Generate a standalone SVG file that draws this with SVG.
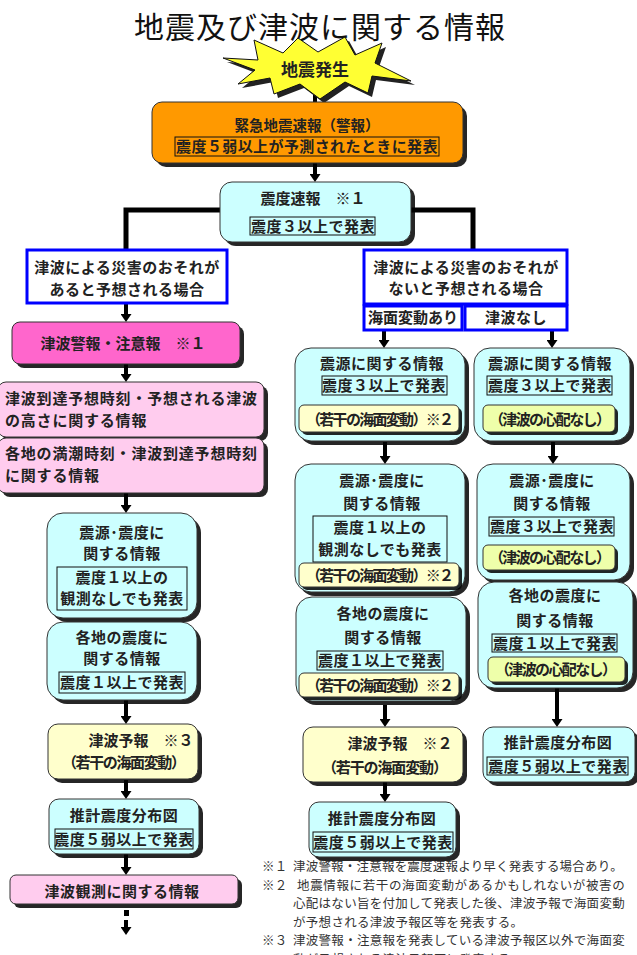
<svg xmlns="http://www.w3.org/2000/svg" width="637" height="955" viewBox="0 0 637 955">
<style>
.sh{fill:#000;opacity:.85}
.cy{fill:#ccffff;stroke:#333;stroke-width:1}
.yl{fill:#ffffcc;stroke:#333;stroke-width:1}
.gr{fill:#eeffaa;stroke:#333;stroke-width:1}
.pk{fill:#ffccee;stroke:#333;stroke-width:1}
.mg{fill:#ff66cc;stroke:#333;stroke-width:1}
.or{fill:#ff9900;stroke:#333;stroke-width:1}
.bl{fill:#fff;stroke:#0000ff;stroke-width:3}
.ib{fill:none;stroke:#111;stroke-width:1}
.c{fill:none;stroke:#000;stroke-width:4}
.cb{fill:none;stroke:#000;stroke-width:5}
text{font-family:"Noto Sans CJK JP","Noto Sans CJK SC",sans-serif;fill:#222}
.t{font-size:15px;font-weight:bold;text-anchor:middle;letter-spacing:.5px}
.tl{font-size:15px;font-weight:bold;letter-spacing:.8px}
.p{font-size:15px;font-weight:bold;text-anchor:middle}
.fn{font-size:12.5px;letter-spacing:.3px;fill:#333}
.title{font-size:30px;text-anchor:middle;letter-spacing:1px;fill:#111}
</style>
<defs>
<marker id="ah" viewBox="0 0 8 11" refX="4" refY="5.5" markerWidth="8" markerHeight="11" markerUnits="userSpaceOnUse" orient="auto">
<path d="M0,0 L8,5.5 L0,11 z" fill="#000"/>
</marker>
</defs>

<text class="title" x="320" y="38">地震及び津波に関する情報</text>

<g id="connectors">
<line class="c" x1="315" y1="95" x2="315" y2="103"/>
<line class="c" x1="315" y1="163" x2="315" y2="178" marker-end="url(#ah)"/>
<path class="cb" d="M220,210 H126 V250"/>
<path class="cb" d="M411,210 H473 V250"/>
<line class="c" x1="126" y1="304" x2="126" y2="318" marker-end="url(#ah)"/>
<line class="c" x1="384" y1="331" x2="384" y2="344" marker-end="url(#ah)"/>
<line class="c" x1="552" y1="331" x2="552" y2="344" marker-end="url(#ah)"/>
<line class="c" x1="126" y1="364" x2="126" y2="378" marker-end="url(#ah)"/>
<line class="c" x1="126" y1="493" x2="126" y2="509" marker-end="url(#ah)"/>
<line class="c" x1="126" y1="700" x2="126" y2="720" marker-end="url(#ah)"/>
<line class="c" x1="126" y1="780" x2="126" y2="795" marker-end="url(#ah)"/>
<line class="c" x1="126" y1="854" x2="126" y2="871" marker-end="url(#ah)"/>
<rect x="124" y="910" width="5" height="6" fill="#000"/>
<line class="c" x1="126" y1="920" x2="126" y2="931" marker-end="url(#ah)"/>
<line class="c" x1="385" y1="442" x2="385" y2="460" marker-end="url(#ah)"/>
<line class="c" x1="385" y1="705" x2="385" y2="723" marker-end="url(#ah)"/>
<line class="c" x1="385" y1="782" x2="385" y2="798" marker-end="url(#ah)"/>
<line class="c" x1="553" y1="442" x2="553" y2="460" marker-end="url(#ah)"/>
<line class="c" x1="557" y1="688" x2="557" y2="723" marker-end="url(#ah)"/>
</g>

<g id="n-start">
<polygon transform="translate(4,4)" fill="#222" points="223,58 258,60 254,40 283,53 298,38 318,52 345,37 355,55 382,43 375,63 411,81 372,76 368,93 345,82 320,99 300,84 274,94 270,78 238,84 255,70"/>
<polygon fill="#ffff33" stroke="#111" stroke-width="1" points="223,58 258,60 254,40 283,53 298,38 318,52 345,37 355,55 382,43 375,63 411,81 372,76 368,93 345,82 320,99 300,84 274,94 270,78 238,84 255,70"/>
<text x="315" y="76" style="font-size:17px;font-weight:bold;text-anchor:middle">地震発生</text>
</g>

<g id="n-eew">
<rect class="sh" x="156" y="106" width="311" height="61" rx="10"/>
<rect class="or" x="152" y="102" width="311" height="61" rx="10"/>
<text class="t" x="307" y="130.5" style="font-size:14.5px;letter-spacing:0">緊急地震速報（警報）</text>
<rect class="ib" x="175" y="137" width="264" height="19"/>
<text class="t" x="307" y="152" style="letter-spacing:.4px">震度５弱以上が予測されたときに発表</text>
</g>

<g id="n-sokuho">
<rect class="sh" x="224" y="186" width="191" height="60" rx="12"/>
<rect class="cy" x="220" y="182" width="191" height="60" rx="12"/>
<text class="t" x="313" y="203.5" style="letter-spacing:0">震度速報　※１</text>
<rect class="ib" x="250" y="217" width="125" height="18"/>
<text class="t" x="313" y="231.5">震度３以上で発表</text>
</g>

<g id="n-case-yes">
<rect class="bl" x="27" y="250" width="200" height="53"/>
<text class="t" x="127" y="272.5">津波による災害のおそれが</text>
<text class="t" x="127" y="295">あると予想される場合</text>
</g>

<g id="n-case-no">
<rect class="bl" x="364" y="250" width="203" height="54"/>
<rect class="bl" x="364" y="306" width="98" height="24"/>
<rect class="bl" x="465" y="306" width="102" height="24"/>
<text class="t" x="466" y="273">津波による災害のおそれが</text>
<text class="t" x="466" y="294">ないと予想される場合</text>
<text class="t" x="413" y="323" style="letter-spacing:0">海面変動あり</text>
<text class="t" x="516" y="323">津波なし</text>
</g>

<g id="n-warning">
<rect class="sh" x="16" y="326" width="228" height="42" rx="8"/>
<rect class="mg" x="12" y="322" width="228" height="42" rx="8"/>
<text class="t" x="123" y="348.5" style="letter-spacing:0">津波警報・注意報　※１</text>
</g>

<g id="n-arrival">
<rect class="sh" x="2" y="386" width="266" height="55" rx="8"/>
<rect class="pk" x="-2" y="382" width="266" height="55" rx="8"/>
<text class="tl" x="5" y="403.5">津波到達予想時刻・予想される津波</text>
<text class="tl" x="5" y="425.5">の高さに関する情報</text>
</g>

<g id="n-hightide">
<rect class="sh" x="2" y="442" width="266" height="55" rx="8"/>
<rect class="pk" x="-2" y="438" width="266" height="55" rx="8"/>
<text class="tl" x="5" y="458.5">各地の満潮時刻・津波到達予想時刻</text>
<text class="tl" x="5" y="480.5">に関する情報</text>
</g>

<g id="n-l-hypo">
<rect class="sh" x="51" y="517" width="150" height="105" rx="16"/>
<rect class="cy" x="47" y="513" width="150" height="105" rx="16"/>
<text class="t" x="122" y="537.5">震源･震度に</text>
<text class="t" x="122" y="558.5">関する情報</text>
<rect class="ib" x="57" y="567" width="130" height="43"/>
<text class="t" x="122" y="582.5">震度１以上の</text>
<text class="t" x="122" y="603.5">観測なしでも発表</text>
</g>

<g id="n-l-each">
<rect class="sh" x="51" y="626" width="150" height="78" rx="16"/>
<rect class="cy" x="47" y="622" width="150" height="78" rx="16"/>
<text class="t" x="122" y="642.5">各地の震度に</text>
<text class="t" x="122" y="663.5">関する情報</text>
<rect class="ib" x="59" y="672" width="126" height="21"/>
<text class="t" x="122" y="688">震度１以上で発表</text>
</g>

<g id="n-l-yoho">
<rect class="sh" x="52" y="728" width="150" height="55" rx="10"/>
<rect class="yl" x="48" y="724" width="150" height="55" rx="10"/>
<text class="t" x="141" y="745.5" style="letter-spacing:0">津波予報　※３</text>
<text class="p" x="124" y="767.5" textLength="124" lengthAdjust="spacing">（若干の海面変動）</text>
</g>

<g id="n-l-suikei">
<rect class="sh" x="53" y="803" width="150" height="55" rx="10"/>
<rect class="cy" x="49" y="799" width="150" height="55" rx="10"/>
<text class="t" x="124" y="820.5">推計震度分布図</text>
<rect class="ib" x="55" y="829" width="138" height="20"/>
<text class="t" x="124" y="844.5">震度５弱以上で発表</text>
</g>

<g id="n-observe">
<rect class="sh" x="14" y="879" width="228" height="29" rx="6"/>
<rect class="pk" x="10" y="875" width="228" height="29" rx="6"/>
<text class="t" x="122" y="896.5">津波観測に関する情報</text>
</g>

<g id="n-m-hypo">
<rect class="sh" x="299" y="352" width="170" height="93" rx="16"/>
<rect class="cy" x="295" y="348" width="170" height="93" rx="16"/>
<text class="t" x="382" y="368.5">震源に関する情報</text>
<rect class="ib" x="322" y="376" width="125" height="19"/>
<text class="t" x="384" y="391">震度３以上で発表</text>
<rect class="sh" x="302" y="408" width="160" height="27" rx="5"/>
<rect class="yl" x="299" y="405" width="160" height="27" rx="5"/>
<text class="p" x="380" y="424.5" textLength="148" lengthAdjust="spacing">（若干の海面変動）※２</text>
</g>

<g id="n-m-hypoint">
<rect class="sh" x="299" y="468" width="170" height="128" rx="16"/>
<rect class="cy" x="295" y="464" width="170" height="128" rx="16"/>
<text class="t" x="382" y="485.5">震源･震度に</text>
<text class="t" x="382" y="508.5">関する情報</text>
<rect class="ib" x="313" y="516" width="134" height="46"/>
<text class="t" x="380" y="532.5">震度１以上の</text>
<text class="t" x="380" y="554.5">観測なしでも発表</text>
<rect class="sh" x="302" y="566" width="160" height="24" rx="5"/>
<rect class="yl" x="299" y="563" width="160" height="24" rx="5"/>
<text class="p" x="380" y="580.5" textLength="148" lengthAdjust="spacing">（若干の海面変動）※２</text>
</g>

<g id="n-m-each">
<rect class="sh" x="300" y="601" width="170" height="104" rx="16"/>
<rect class="cy" x="296" y="597" width="170" height="104" rx="16"/>
<text class="t" x="383" y="618.5">各地の震度に</text>
<text class="t" x="383" y="642.5">関する情報</text>
<rect class="ib" x="317" y="651" width="126" height="19"/>
<text class="t" x="380" y="666">震度１以上で発表</text>
<rect class="sh" x="302" y="676" width="160" height="24" rx="5"/>
<rect class="yl" x="299" y="673" width="160" height="24" rx="5"/>
<text class="p" x="380" y="690.5" textLength="148" lengthAdjust="spacing">（若干の海面変動）※２</text>
</g>

<g id="n-m-yoho">
<rect class="sh" x="307" y="731" width="160" height="55" rx="10"/>
<rect class="yl" x="303" y="727" width="160" height="55" rx="10"/>
<text class="t" x="400" y="748.5" style="letter-spacing:0">津波予報　※２</text>
<text class="p" x="385" y="772.5" textLength="126" lengthAdjust="spacing">（若干の海面変動）</text>
</g>

<g id="n-m-suikei">
<rect class="sh" x="313" y="806" width="147" height="55" rx="10"/>
<rect class="cy" x="309" y="802" width="147" height="55" rx="10"/>
<text class="t" x="382" y="824">推計震度分布図</text>
<rect class="ib" x="313" y="832" width="140" height="20"/>
<text class="t" x="383" y="847.5">震度５弱以上で発表</text>
</g>

<g id="n-r-hypo">
<rect class="sh" x="478" y="352" width="156" height="93" rx="16"/>
<rect class="cy" x="474" y="348" width="156" height="93" rx="16"/>
<text class="t" x="550" y="368.5">震源に関する情報</text>
<rect class="ib" x="487" y="376" width="125" height="19"/>
<text class="t" x="550" y="391">震度３以上で発表</text>
<rect class="sh" x="486" y="408" width="132" height="27" rx="5"/>
<rect class="gr" x="483" y="405" width="132" height="27" rx="5"/>
<text class="p" x="550" y="424.5" textLength="122" lengthAdjust="spacing">（津波の心配なし）</text>
</g>

<g id="n-r-hypoint">
<rect class="sh" x="481" y="468" width="153" height="116" rx="16"/>
<rect class="cy" x="477" y="464" width="153" height="116" rx="16"/>
<text class="t" x="552" y="485.5">震源･震度に</text>
<text class="t" x="552" y="508.5">関する情報</text>
<rect class="ib" x="489" y="517" width="125" height="19"/>
<text class="t" x="552" y="532">震度３以上で発表</text>
<rect class="sh" x="486" y="548" width="132" height="25" rx="5"/>
<rect class="gr" x="483" y="545" width="132" height="25" rx="5"/>
<text class="p" x="550" y="563" textLength="122" lengthAdjust="spacing">（津波の心配なし）</text>
</g>

<g id="n-r-each">
<rect class="sh" x="482" y="586" width="155" height="106" rx="16"/>
<rect class="cy" x="478" y="582" width="155" height="106" rx="16"/>
<text class="t" x="555" y="600.5">各地の震度に</text>
<text class="t" x="555" y="625.5">関する情報</text>
<rect class="ib" x="492" y="634" width="125" height="18"/>
<text class="t" x="555" y="648.5">震度１以上で発表</text>
<rect class="sh" x="491" y="660" width="137" height="25" rx="5"/>
<rect class="gr" x="488" y="657" width="137" height="25" rx="5"/>
<text class="p" x="556" y="675" textLength="122" lengthAdjust="spacing">（津波の心配なし）</text>
</g>

<g id="n-r-suikei">
<rect class="sh" x="487" y="731" width="152" height="55" rx="10"/>
<rect class="cy" x="483" y="727" width="152" height="55" rx="10"/>
<text class="t" x="558" y="747.5">推計震度分布図</text>
<rect class="ib" x="487" y="757" width="141" height="18"/>
<text class="t" x="558" y="771.5">震度５弱以上で発表</text>
</g>

<g id="notes">
<text class="fn" x="262" y="871">※１</text>
<text class="fn" x="293" y="871" textLength="330" lengthAdjust="spacing">津波警報・注意報を震度速報より早く発表する場合あり。</text>
<text class="fn" x="262" y="889.5">※２</text>
<text class="fn" x="297" y="889.5" textLength="328" lengthAdjust="spacing">地震情報に若干の海面変動があるかもしれないが被害の</text>
<text class="fn" x="293" y="908" textLength="332" lengthAdjust="spacing">心配はない旨を付加して発表した後、津波予報で海面変動</text>
<text class="fn" x="293" y="926.5">が予想される津波予報区等を発表する。</text>
<text class="fn" x="262" y="945">※３</text>
<text class="fn" x="293" y="945" textLength="332" lengthAdjust="spacing">津波警報・注意報を発表している津波予報区以外で海面変</text>
<text class="fn" x="293" y="963.5">動が予想される津波予報区に発表する。</text>
</g>
</svg>
